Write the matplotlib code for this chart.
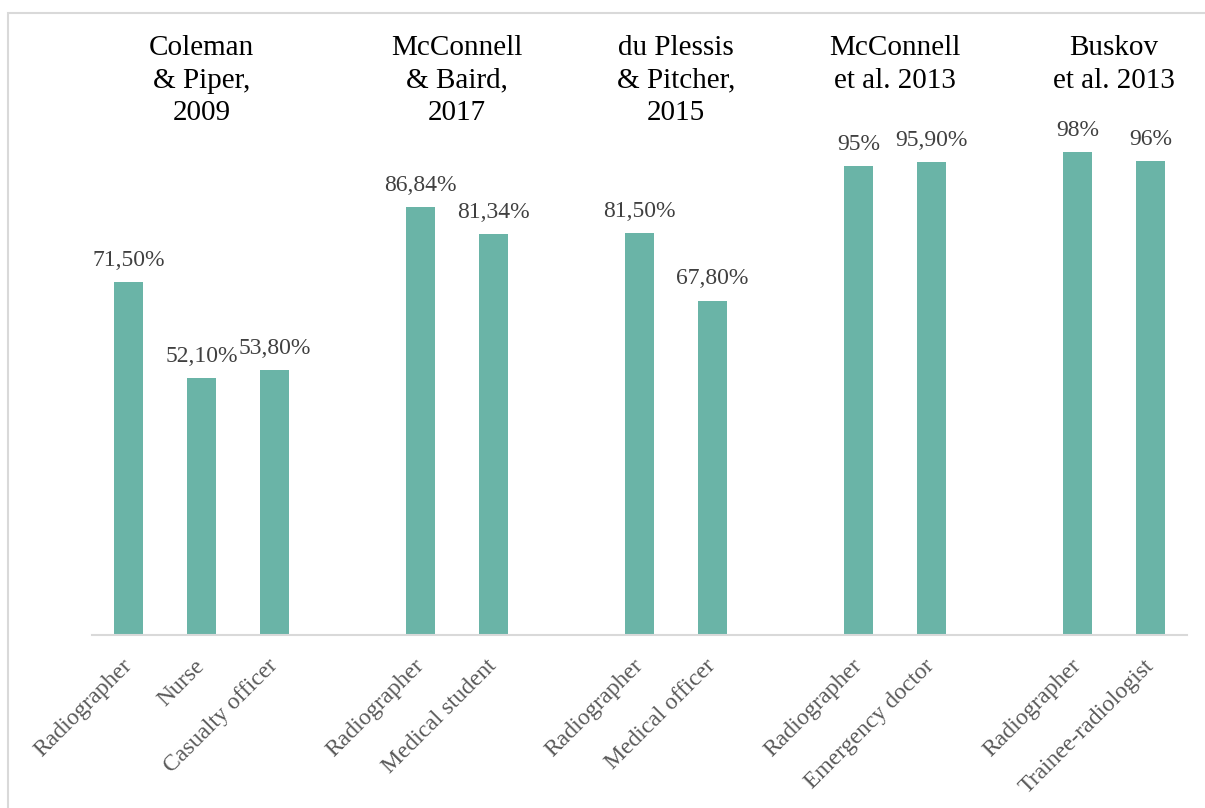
import matplotlib
matplotlib.use("Agg")
import matplotlib.pyplot as plt
from matplotlib.patches import Rectangle

plt.rcParams['font.family'] = ['Liberation Serif', 'DejaVu Serif']

study_titles = ["Coleman\n& Piper,\n2009", "McConnell\n& Baird,\n2017",
                "du Plessis\n& Pitcher,\n2015", "McConnell\net al. 2013",
                "Buskov\net al. 2013"]
roles = [["Radiographer", "Nurse", "Casualty officer"],
         ["Radiographer", "Medical student"],
         ["Radiographer", "Medical officer"],
         ["Radiographer", "Emergency doctor"],
         ["Radiographer", "Trainee-radiologist"]]
values = [[71.5, 52.1, 53.8],
          [86.84, 81.34],
          [81.5, 67.8],
          [95.0, 95.9],
          [98.0, 96.0]]
value_labels = [["71,50%", "52,10%", "53,80%"],
                ["86,84%", "81,34%"],
                ["81,50%", "67,80%"],
                ["95%", "95,90%"],
                ["98%", "96%"]]

W, H = 1205, 808
fig = plt.figure(figsize=(W / 100, H / 100), dpi=100)
ax = fig.add_axes([92 / W, 1 - 635 / H, 1095 / W, 592 / H])

bar_color = "#6AB4A7"
pos = 0
xs_all, labels_all = [], []
for title, rl, vals, vl in zip(study_titles, roles, values, value_labels):
    xs = list(range(pos, pos + len(rl)))
    ax.bar(xs, vals, width=0.4, color=bar_color, zorder=2)
    for x, v, s in zip(xs, vals, vl):
        ax.annotate(s, (x, v), xytext=(0, 15.5), textcoords="offset points",
                    ha="center", va="center", fontsize=17, color="#404040")
    ax.text(sum(xs) / len(xs), 121.6, title, ha="center", va="top",
            fontsize=21, color="black", linespacing=1.32, clip_on=False)
    xs_all += xs
    labels_all += rl
    pos += len(rl) + 1

ax.set_xlim(-0.5, 14.5)
ax.set_ylim(0, 120)
ax.set_xticks(xs_all)
ax.set_xticklabels(labels_all, rotation=45, ha="right", va="center",
                   rotation_mode="anchor", fontsize=17, color="#595959")
ax.tick_params(axis="x", length=0, pad=20)
ax.set_yticks([])
for s in ["top", "left", "right"]:
    ax.spines[s].set_visible(False)
ax.spines["bottom"].set_color("#D9D9D9")
ax.spines["bottom"].set_linewidth(1.5)

fig.patches.append(Rectangle((8 / W, -0.1), 1.2, (H - 13) / H + 0.1,
                             transform=fig.transFigure, fill=False,
                             edgecolor="#D9D9D9", linewidth=1.5))

fig.savefig("out.png", dpi=100)
